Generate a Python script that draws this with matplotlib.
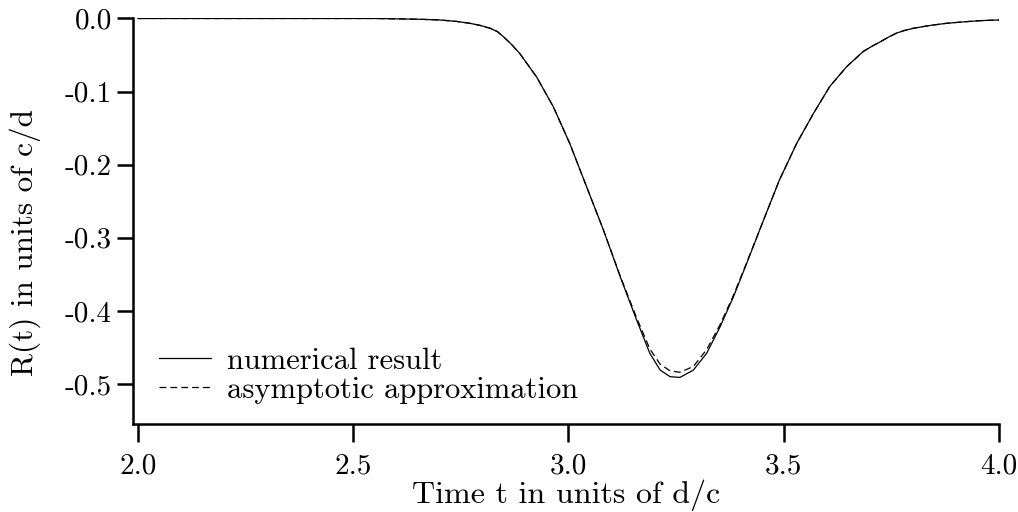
import matplotlib
matplotlib.use("Agg")
import matplotlib.pyplot as plt

# Time values (units of d/c) and R(t) values (units of c/d)
t_vals = [2.00, 2.20, 2.40, 2.55, 2.65, 2.70, 2.74, 2.771, 2.795, 2.818, 2.835,
          2.849, 2.867, 2.887, 2.926, 2.965, 3.003, 3.042, 3.081, 3.120, 3.158,
          3.189, 3.213, 3.236, 3.259, 3.290, 3.321, 3.352, 3.383, 3.414, 3.453,
          3.490, 3.530, 3.569, 3.607, 3.646, 3.685, 3.705, 3.724, 3.745, 3.762,
          3.780, 3.801, 3.840, 3.878, 3.920, 3.956, 4.00]
numerical = [0.0, 0.0, 0.0, 0.0, -0.001, -0.002, -0.004, -0.0066, -0.0095, -0.0134,
             -0.018, -0.025, -0.035, -0.048, -0.080, -0.121, -0.171, -0.230, -0.289,
             -0.353, -0.412, -0.458, -0.481, -0.490, -0.491, -0.481, -0.458, -0.422,
             -0.381, -0.335, -0.276, -0.221, -0.171, -0.130, -0.093, -0.066, -0.045,
             -0.038, -0.032, -0.025, -0.020, -0.0165, -0.0134, -0.0095, -0.0066,
             -0.0045, -0.003, -0.002]
asymptotic = [0.0, 0.0, 0.0, 0.0, -0.001, -0.002, -0.004, -0.0066, -0.0095, -0.0134,
              -0.018, -0.025, -0.035, -0.048, -0.080, -0.121, -0.171, -0.230, -0.289,
              -0.352, -0.409, -0.452, -0.473, -0.482, -0.484, -0.476, -0.453, -0.419,
              -0.379, -0.334, -0.276, -0.221, -0.171, -0.130, -0.093, -0.066, -0.045,
              -0.038, -0.032, -0.025, -0.020, -0.0165, -0.0134, -0.0095, -0.0066,
              -0.0045, -0.003, -0.002]

x_ticks = [2.0, 2.5, 3.0, 3.5, 4.0]
x_tick_labels = ["2.0", "2.5", "3.0", "3.5", "4.0"]
y_ticks = [0.0, -0.1, -0.2, -0.3, -0.4, -0.5]
y_tick_labels = ["0.0", "-0.1", "-0.2", "-0.3", "-0.4", "-0.5"]

plt.rcParams["font.family"] = ["cmr10", "DejaVu Serif"]
plt.rcParams["axes.unicode_minus"] = False

fig = plt.figure(figsize=(10.18, 5.12), dpi=100)
ax = fig.add_axes([0.1311, 0.1719, 0.9813 - 0.1311, 0.9639 - 0.1719])

ax.plot(t_vals, numerical, color="black", lw=0.9, label="numerical result")
ax.plot(t_vals, asymptotic, color="black", lw=0.9, linestyle=(0, (5.5, 3.2)),
        label="asymptotic approximation")

ax.set_xlim(1.9895, 4.0)
ax.set_ylim(-0.5547, 0.0)

for s in ["top", "right"]:
    ax.spines[s].set_visible(False)
for s in ["left", "bottom"]:
    ax.spines[s].set_linewidth(1.8)

ax.set_xticks(x_ticks)
ax.set_xticklabels(x_tick_labels)
ax.set_yticks(y_ticks)
ax.set_yticklabels(y_tick_labels)
ax.tick_params(axis="x", direction="out", length=13, width=1.8, pad=8, labelsize=21)
ax.tick_params(axis="y", direction="out", length=11.5, width=1.8, pad=4, labelsize=21)

ax.set_xlabel("Time t in units of d/c", fontsize=23, labelpad=0)
ax.set_ylabel("R(t) in units of c/d", fontsize=22.5)
ax.yaxis.set_label_coords(-0.107, 0.448)

ax.legend(loc="lower left", frameon=False, fontsize=22, handlelength=1.7,
          handletextpad=0.55, borderaxespad=0.0, borderpad=0.0, labelspacing=0.05,
          bbox_to_anchor=(0.029, 0.05))

fig.savefig("out.png", dpi=100)
